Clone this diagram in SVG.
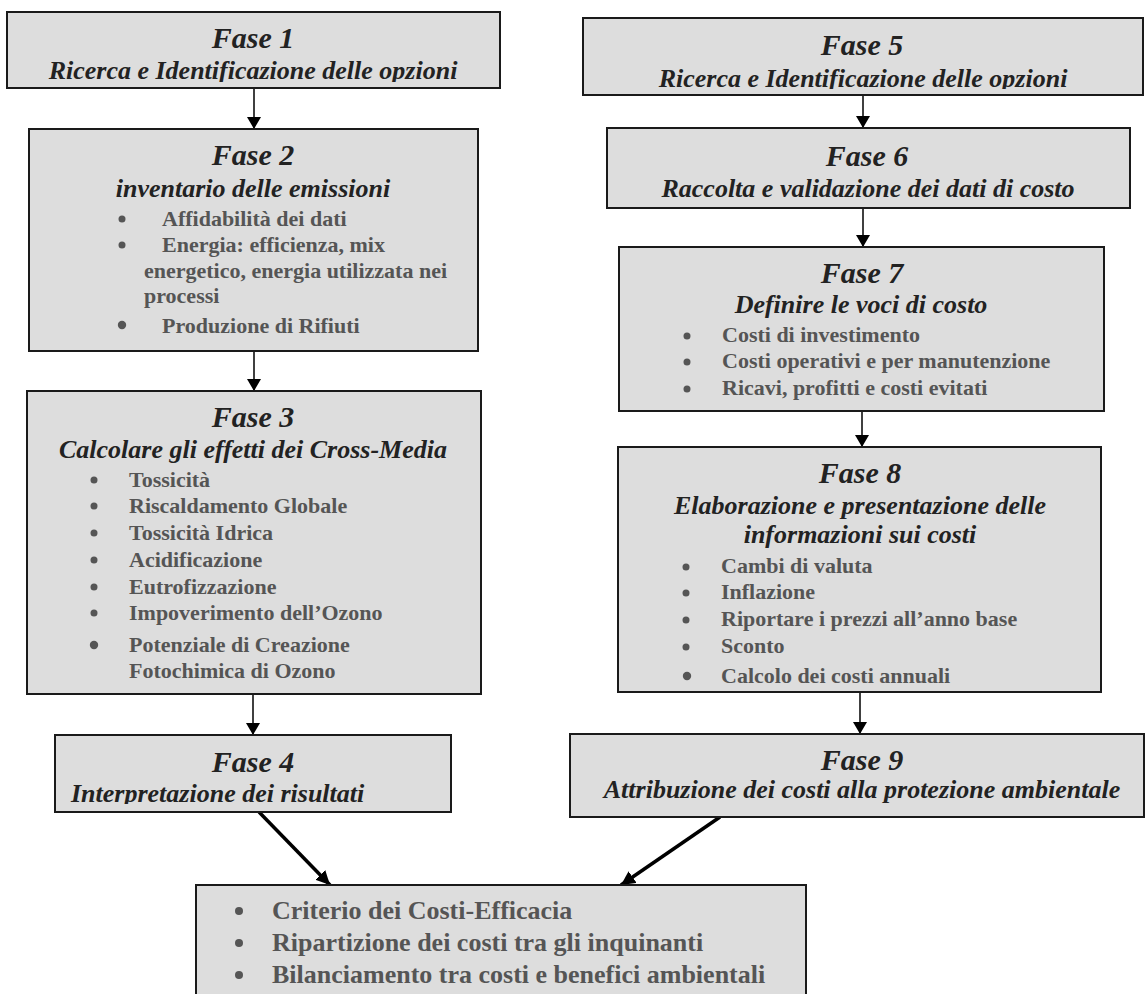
<svg xmlns="http://www.w3.org/2000/svg" width="1145" height="994" viewBox="0 0 1145 994">
<style>
.box{fill:#dddddd;stroke:#1a1a1a;stroke-width:2}
.h{font-family:"Liberation Serif","Times New Roman",serif;font-weight:bold;font-style:italic;font-size:30px;fill:#222;text-anchor:middle}
.s{font-family:"Liberation Serif","Times New Roman",serif;font-weight:bold;font-style:italic;font-size:26px;fill:#222;text-anchor:middle}
.b{font-family:"Liberation Serif","Times New Roman",serif;font-weight:bold;font-size:22px;fill:#555}
.b2{font-family:"Liberation Serif","Times New Roman",serif;font-weight:bold;font-size:26px;fill:#555}
.dot{fill:#555}
.c{stroke:#000;stroke-width:1.5;fill:none}
.d{stroke:#000;stroke-width:3.5;fill:none}
</style>
<defs>
<marker id="ah" markerUnits="userSpaceOnUse" markerWidth="14" markerHeight="14" viewBox="0 0 14 14" refX="12" refY="7" orient="auto"><path d="M0,0 L12,7 L0,14 Z" fill="#000"/></marker>
<marker id="ah2" markerUnits="userSpaceOnUse" markerWidth="16" markerHeight="14" viewBox="0 0 16 14" refX="14" refY="7" orient="auto"><path d="M0,0 L14,7 L0,14 Z" fill="#000"/></marker>
<clipPath id="k1"><rect x="0" y="0" width="1145" height="82"/></clipPath>
<clipPath id="k5"><rect x="0" y="0" width="1145" height="89"/></clipPath>
<clipPath id="k4"><rect x="0" y="0" width="1145" height="804"/></clipPath>
<clipPath id="k8"><rect x="0" y="0" width="1145" height="685"/></clipPath>
</defs>
<g id="connectors">
<line class="c" x1="254" y1="88" x2="254" y2="129" marker-end="url(#ah)"/>
<line class="c" x1="254" y1="351" x2="254" y2="391" marker-end="url(#ah)"/>
<line class="c" x1="253" y1="694" x2="253" y2="735" marker-end="url(#ah)"/>
<line class="c" x1="863" y1="95" x2="863" y2="128" marker-end="url(#ah)"/>
<line class="c" x1="863" y1="208" x2="863" y2="247" marker-end="url(#ah)"/>
<line class="c" x1="862" y1="411" x2="862" y2="447" marker-end="url(#ah)"/>
<line class="c" x1="860" y1="692" x2="860" y2="734" marker-end="url(#ah)"/>
<line class="d" x1="259" y1="812" x2="330" y2="885" marker-end="url(#ah2)"/>
<line class="d" x1="720" y1="817" x2="621" y2="885" marker-end="url(#ah2)"/>
</g>
<g id="fase1">
<rect class="box" x="7" y="12" width="493" height="76"/>
<text class="h" x="253" y="48">Fase 1</text>
<text class="s" x="253" y="79" clip-path="url(#k1)">Ricerca e Identificazione delle opzioni</text>
</g>
<g id="fase2">
<rect class="box" x="29" y="129" width="449" height="222"/>
<text class="h" x="253" y="165">Fase 2</text>
<text class="s" x="253" y="197">inventario delle emissioni</text>
<circle class="dot" cx="122" cy="219" r="3.5"/><text class="b" x="162" y="226">Affidabilità dei dati</text>
<circle class="dot" cx="122" cy="245" r="3.5"/><text class="b" x="162" y="252">Energia: efficienza, mix</text>
<text class="b" x="144" y="278">energetico, energia utilizzata nei</text>
<text class="b" x="144" y="303">processi</text>
<circle class="dot" cx="122" cy="325" r="4.2"/><text class="b" x="162" y="333">Produzione di Rifiuti</text>
</g>
<g id="fase3">
<rect class="box" x="27" y="391" width="454" height="303"/>
<text class="h" x="253" y="427">Fase 3</text>
<text class="s" x="253" y="458">Calcolare gli effetti dei Cross-Media</text>
<circle class="dot" cx="94" cy="480" r="3.5"/><text class="b" x="129" y="487">Tossicità</text>
<circle class="dot" cx="94" cy="506" r="3.5"/><text class="b" x="129" y="513">Riscaldamento Globale</text>
<circle class="dot" cx="94" cy="533" r="3.5"/><text class="b" x="129" y="540">Tossicità Idrica</text>
<circle class="dot" cx="94" cy="560" r="3.5"/><text class="b" x="129" y="567">Acidificazione</text>
<circle class="dot" cx="94" cy="587" r="3.5"/><text class="b" x="129" y="594">Eutrofizzazione</text>
<circle class="dot" cx="94" cy="613" r="3.5"/><text class="b" x="129" y="620">Impoverimento dell’Ozono</text>
<circle class="dot" cx="94" cy="645" r="4.2"/><text class="b" x="129" y="652">Potenziale di Creazione</text>
<text class="b" x="129" y="678">Fotochimica di Ozono</text>
</g>
<g id="fase4">
<rect class="box" x="55" y="735" width="396" height="77"/>
<text class="h" x="253" y="772">Fase 4</text>
<text class="s" x="71" y="802" style="text-anchor:start" clip-path="url(#k4)">Interpretazione dei risultati</text>
</g>
<g id="fase5">
<rect class="box" x="583" y="18" width="560" height="77"/>
<text class="h" x="862" y="55">Fase 5</text>
<text class="s" x="863" y="87" clip-path="url(#k5)">Ricerca e Identificazione delle opzioni</text>
</g>
<g id="fase6">
<rect class="box" x="607" y="128" width="523" height="80"/>
<text class="h" x="867" y="166">Fase 6</text>
<text class="s" x="868" y="197">Raccolta e validazione dei dati di costo</text>
</g>
<g id="fase7">
<rect class="box" x="619" y="247" width="485" height="164"/>
<text class="h" x="862" y="283">Fase 7</text>
<text class="s" x="861" y="313">Definire le voci di costo</text>
<circle class="dot" cx="687" cy="336" r="3.5"/><text class="b" x="722" y="342">Costi di investimento</text>
<circle class="dot" cx="687" cy="362" r="3.5"/><text class="b" x="722" y="368">Costi operativi e per manutenzione</text>
<circle class="dot" cx="687" cy="389" r="3.5"/><text class="b" x="722" y="395">Ricavi, profitti e costi evitati</text>
</g>
<g id="fase8">
<rect class="box" x="618" y="447" width="483" height="245"/>
<text class="h" x="860" y="483">Fase 8</text>
<text class="s" x="860" y="514">Elaborazione e presentazione delle</text>
<text class="s" x="860" y="543">informazioni sui costi</text>
<circle class="dot" cx="686" cy="567" r="3.5"/><text class="b" x="721" y="573">Cambi di valuta</text>
<circle class="dot" cx="686" cy="593" r="3.5"/><text class="b" x="721" y="599">Inflazione</text>
<circle class="dot" cx="686" cy="620" r="3.5"/><text class="b" x="721" y="626">Riportare i prezzi all’anno base</text>
<circle class="dot" cx="686" cy="647" r="3.5"/><text class="b" x="721" y="653">Sconto</text>
<g clip-path="url(#k8)"><circle class="dot" cx="687" cy="676" r="4.2"/><text class="b" x="721" y="683">Calcolo dei costi annuali</text></g>
</g>
<g id="fase9">
<rect class="box" x="570" y="734" width="574" height="83"/>
<text class="h" x="862" y="770">Fase 9</text>
<text class="s" x="862" y="798">Attribuzione dei costi alla protezione ambientale</text>
</g>
<g id="result">
<rect class="box" x="196" y="885" width="610" height="120"/>
<circle class="dot" cx="239" cy="911" r="4"/><text class="b2" x="272" y="919">Criterio dei Costi-Efficacia</text>
<circle class="dot" cx="239" cy="943" r="4"/><text class="b2" x="272" y="951">Ripartizione dei costi tra gli inquinanti</text>
<circle class="dot" cx="239" cy="975" r="4"/><text class="b2" x="272" y="983">Bilanciamento tra costi e benefici ambientali</text>
</g>
</svg>
